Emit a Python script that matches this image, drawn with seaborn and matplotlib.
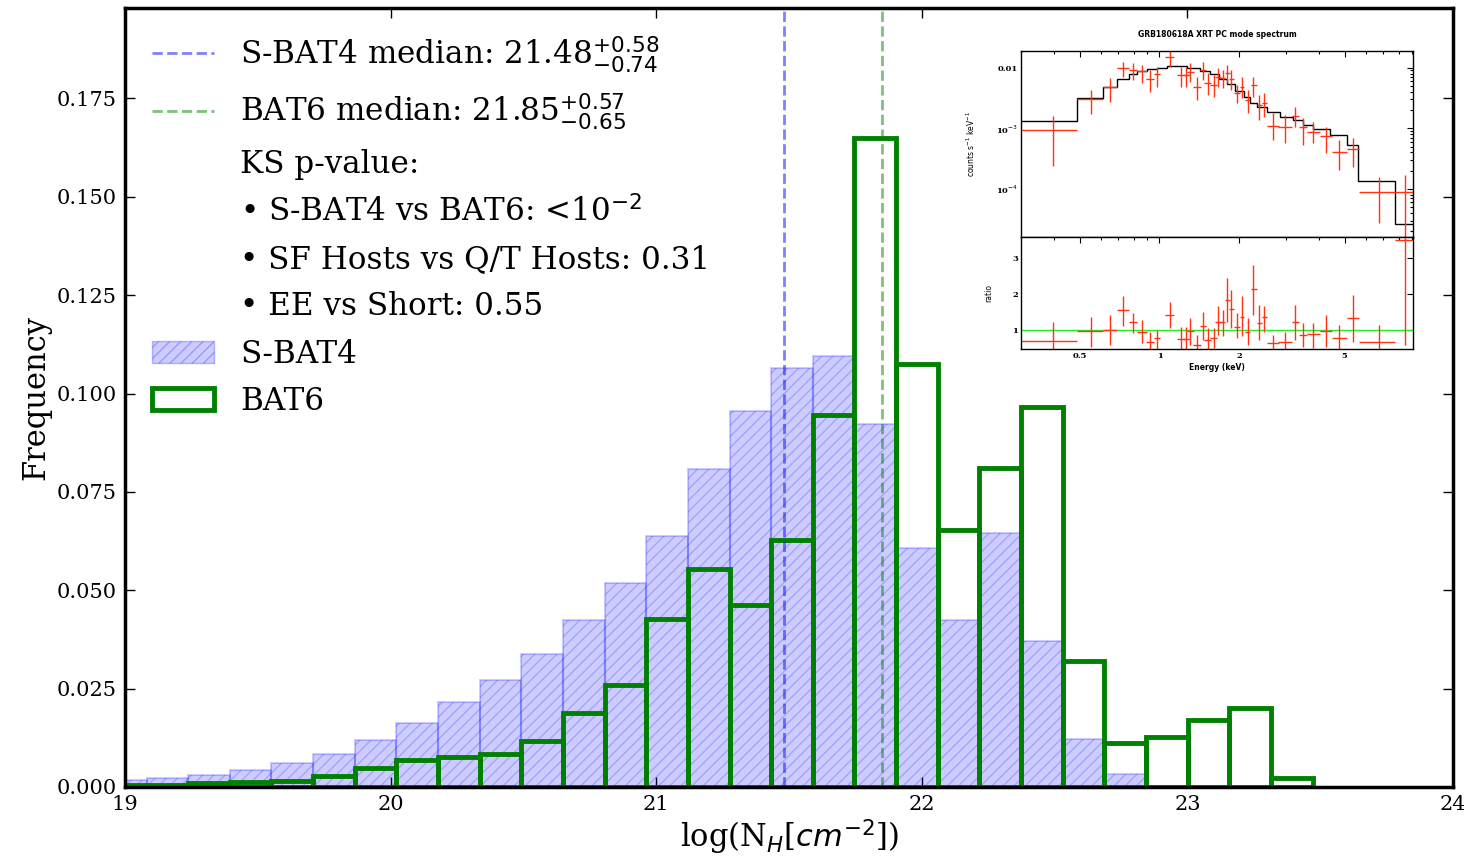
import numpy as np
import pandas as pd
import matplotlib
matplotlib.use("Agg")
import matplotlib.pyplot as plt
import seaborn as sns
from matplotlib.lines import Line2D
from matplotlib.patches import Patch

# ---------------- main histogram data ----------------
bin_edges = [18.924, 19.081, 19.238, 19.394, 19.551, 19.708, 19.865, 20.022,
             20.178, 20.335, 20.492, 20.649, 20.806, 20.962, 21.119, 21.276,
             21.433, 21.590, 21.746, 21.903, 22.060, 22.217, 22.374, 22.530,
             22.687, 22.844, 23.001, 23.158, 23.314, 23.471]
sbat4_freq = [0.0018, 0.0024, 0.0030, 0.0043, 0.0060, 0.0085, 0.0119, 0.0163,
              0.0215, 0.0273, 0.0339, 0.0424, 0.0519, 0.0637, 0.0807, 0.0956,
              0.1064, 0.1096, 0.0922, 0.0608, 0.0425, 0.0646, 0.0371, 0.0123,
              0.0032, 0.0003, 0.0, 0.0, 0.0]
bat6_freq = [0.0005, 0.0006, 0.0009, 0.0012, 0.0016, 0.0028, 0.0047, 0.0068,
             0.0075, 0.0084, 0.0117, 0.0188, 0.0260, 0.0426, 0.0553, 0.0462,
             0.0629, 0.0946, 0.1649, 0.1075, 0.0654, 0.0811, 0.0965, 0.0320,
             0.0112, 0.0128, 0.0171, 0.0200, 0.0022]
sbat4_median = 21.48
bat6_median = 21.85
x_ticks = [19, 20, 21, 22, 23, 24]
y_ticks = [0.000, 0.025, 0.050, 0.075, 0.100, 0.125, 0.150, 0.175]

# ---------------- inset spectrum data ----------------
model_edges = [0.2998, 0.4898, 0.6138, 0.6888, 0.7666, 0.8241, 0.8986, 0.9800,
               1.0690, 1.2708, 1.4265, 1.5560, 1.6722, 1.7975, 1.9321, 2.0773,
               2.2006, 2.3315, 2.5430, 2.8544, 3.2037, 3.4942, 3.8103, 4.4022,
               5.0851, 5.6270, 7.7322, 9.0663]
model_counts = [1.34e-3, 3.13e-3, 4.74e-3, 6.50e-3, 7.77e-3, 8.81e-3, 9.39e-3,
                1.00e-2, 1.065e-2, 9.75e-3, 8.81e-3, 7.77e-3, 6.42e-3, 5.31e-3,
                4.18e-3, 3.33e-3, 2.58e-3, 2.22e-3, 1.88e-3, 1.56e-3, 1.37e-3,
                1.13e-3, 9.6e-4, 7.8e-4, 5.3e-4, 1.36e-4, 2.65e-5]
e_lo = [0.2998, 0.4898, 0.6138, 0.6888, 0.7666, 0.8241, 0.8857, 0.9521, 1.0534,
        1.1654, 1.2276, 1.2708, 1.3386, 1.4183, 1.4686, 1.5560, 1.6247, 1.6967,
        1.7616, 1.8239, 1.9155, 2.0063, 2.1074, 2.2133, 2.3315, 2.4351, 2.5577,
        2.8134, 3.1579, 3.3749, 3.6169, 4.0365, 4.4660, 5.0851, 5.6760, 7.7322]
e_mid = [0.3968, 0.5498, 0.6502, 0.7300, 0.7959, 0.8606, 0.9197, 0.9800, 1.0937,
         1.2100, 1.2635, 1.3081, 1.3860, 1.4558, 1.5202, 1.6013, 1.6627, 1.7362,
         1.7975, 1.8610, 1.9604, 2.0474, 2.1505, 2.2652, 2.3792, 2.4847, 2.6941,
         2.9805, 3.2505, 3.4740, 3.7883, 4.2520, 4.7596, 5.3884, 6.7515, 8.4333]
e_hi = [0.4898, 0.6138, 0.6888, 0.7666, 0.8241, 0.8986, 0.9576, 1.0087, 1.1323,
        1.2526, 1.3081, 1.3464, 1.4348, 1.5028, 1.5650, 1.6484, 1.7065, 1.7717,
        1.8396, 1.9045, 2.0180, 2.0893, 2.2006, 2.3315, 2.4351, 2.5430, 2.8377,
        3.1579, 3.3749, 3.6169, 4.0365, 4.4660, 5.0851, 5.6760, 7.7322, 9.1188]
cnt = [9.39e-4, 3.04e-3, 4.74e-3, 1.00e-2, 9.15e-3, 8.82e-3, 6.42e-3, 7.86e-3,
       1.518e-2, 7.57e-3, 7.57e-3, 8.59e-3, 4.86e-3, 9.15e-3, 5.66e-3, 5.18e-3,
       7.11e-3, 6.67e-3, 8.07e-3, 6.50e-3, 3.78e-3, 4.86e-3, 2.93e-3, 5.18e-3,
       2.42e-3, 2.65e-3, 1.09e-3, 1.07e-3, 1.60e-3, 1.04e-3, 8.81e-4, 7.47e-4,
       4.12e-4, 4.56e-4, 9.04e-5, 9.04e-5]
cnt_lo = [2.42e-4, 1.70e-3, 2.75e-3, 7.11e-3, 6.26e-3, 5.52e-3, 4.02e-3, 4.86e-3,
          1.039e-2, 4.86e-3, 4.86e-3, 5.88e-3, 2.93e-3, 6.26e-3, 3.54e-3, 3.33e-3,
          4.86e-3, 4.56e-3, 5.52e-3, 4.28e-3, 2.58e-3, 3.12e-3, 1.77e-3, 3.33e-3,
          1.37e-3, 1.56e-3, 6.42e-4, 5.66e-4, 1.07e-3, 5.31e-4, 5.66e-4, 3.87e-4,
          2.06e-4, 2.33e-4, 2.79e-5, 1.0e-5]
cnt_hi = [1.62e-3, 4.28e-3, 6.67e-3, 1.256e-2, 1.179e-2, 1.107e-2, 9.15e-3,
          1.039e-2, 1.955e-2, 1.039e-2, 1.039e-2, 1.179e-2, 7.11e-3, 1.256e-2,
          8.07e-3, 7.57e-3, 9.75e-3, 9.15e-3, 1.107e-2, 9.15e-3, 5.18e-3, 7.11e-3,
          4.28e-3, 7.11e-3, 3.54e-3, 3.78e-3, 1.77e-3, 1.66e-3, 2.28e-3, 1.46e-3,
          1.29e-3, 1.07e-3, 6.42e-4, 6.84e-4, 1.60e-4, 1.70e-4]
ratio = [0.70, 0.97, 1.00, 1.54, 1.21, 0.95, 0.68, 0.77, 1.40, 0.74, 0.75, 0.98,
         0.58, 1.11, 0.72, 0.77, 1.23, 1.23, 1.83, 1.58, 1.09, 1.37, 0.95, 2.13,
         1.18, 1.35, 0.63, 0.68, 1.21, 0.86, 0.88, 0.98, 0.77, 1.34, 0.66, 3.49]
ratio_lo = [0.40, 0.54, 0.58, 1.11, 0.91, 0.63, 0.40, 0.40, 1.05, 0.40, 0.40,
            0.58, 0.40, 0.72, 0.40, 0.49, 0.86, 0.82, 1.23, 1.05, 0.77, 0.82,
            0.58, 1.42, 0.72, 0.95, 0.40, 0.40, 0.72, 0.54, 0.49, 0.54, 0.40,
            0.68, 0.40, 0.58]
ratio_hi = [1.23, 1.37, 1.42, 1.94, 1.48, 1.28, 0.95, 1.00, 1.78, 1.09, 1.09,
            1.32, 0.86, 1.51, 1.05, 1.05, 1.65, 1.55, 2.43, 2.11, 1.46, 1.94,
            1.32, 2.80, 1.69, 1.65, 0.86, 0.95, 1.69, 1.18, 1.20, 1.42, 1.14,
            1.97, 1.14, 4.00]

# ---------------- style ----------------
sns.set_theme(style="white")
plt.rcParams["font.family"] = ["DejaVu Serif"]
plt.rcParams["mathtext.fontset"] = "dejavusans"
plt.rcParams["text.color"] = "black"
plt.rcParams["axes.labelcolor"] = "black"
plt.rcParams["xtick.color"] = "black"
plt.rcParams["ytick.color"] = "black"

fig = plt.figure(figsize=(14.64, 8.57), dpi=100)
ax = fig.add_axes([0.0854, 0.0817, 0.9071, 0.9090])

centers = [(a + b) / 2 for a, b in zip(bin_edges[:-1], bin_edges[1:])]
df = pd.DataFrame({"x": centers, "sbat4": sbat4_freq, "bat6": bat6_freq})

sns.histplot(data=df, x="x", weights="sbat4", bins=bin_edges, stat="count",
             color="blue", alpha=0.2, edgecolor=(0, 0, 1, 0.2), linewidth=1.5,
             ax=ax)
for p in ax.patches:
    p.set_hatch("///")
sns.histplot(data=df, x="x", weights="bat6", bins=bin_edges, stat="count",
             fill=False, color="green", linewidth=3.5, ax=ax)

ax.axvline(sbat4_median, color="blue", alpha=0.5, ls="--", lw=2)
ax.axvline(bat6_median, color="green", alpha=0.5, ls="--", lw=2)

ax.set_xlim(19, 24)
ax.set_ylim(0, 0.198)
ax.set_xticks(x_ticks)
ax.set_yticks(y_ticks)
ax.set_yticklabels([f"{v:.3f}" for v in y_ticks])
ax.tick_params(direction="in", length=7, width=1, labelsize=15,
               top=True, right=True, bottom=True, left=True, pad=6)
for s in ax.spines.values():
    s.set_linewidth(2.5)
    s.set_color("black")
ax.set_xlabel("log(N$_H$[$cm^{-2}$])", fontsize=22, labelpad=2)
ax.set_ylabel("Frequency", fontsize=22, labelpad=4)

blank = Line2D([], [], alpha=0)
handles = [
    Line2D([], [], color="blue", alpha=0.5, ls="--", lw=2),
    Line2D([], [], color="green", alpha=0.5, ls="--", lw=2),
    blank, blank, blank, blank,
    Patch(facecolor=(0, 0, 1, 0.2), edgecolor=(0, 0, 1, 0.25), hatch="///"),
    Patch(facecolor="none", edgecolor="green", linewidth=3.5),
]
labels = [
    "S-BAT4 median: 21.48$^{+0.58}_{-0.74}$",
    "BAT6 median: 21.85$^{+0.57}_{-0.65}$",
    "KS p-value:",
    "\u2022 S-BAT4 vs BAT6: <10$^{-2}$",
    "\u2022 SF Hosts vs Q/T Hosts: 0.31",
    "\u2022 EE vs Short: 0.55",
    "S-BAT4",
    "BAT6",
]
ax.legend(handles, labels, loc="upper left", frameon=False, fontsize=22.3,
          handlelength=2.0, handletextpad=0.85, labelspacing=0.52,
          borderaxespad=0.0, bbox_to_anchor=(0.011, 0.982))

# ---------------- inset spectrum ----------------
red = "#ff3311"
axt = fig.add_axes([0.6974, 0.7231, 0.2678, 0.2177])
axb = fig.add_axes([0.6974, 0.5928, 0.2678, 0.1303], sharex=axt)
for a in (axt, axb):
    a.set_facecolor("white")
    for s in a.spines.values():
        s.set_linewidth(1.0)
        s.set_color("black")
    a.set_xscale("log")
    a.tick_params(which="both", direction="in", top=True, right=True,
                  labelsize=6, width=0.8, pad=2)
    a.tick_params(which="major", length=4)
    a.tick_params(which="minor", length=2)

axt.set_yscale("log")
axt.stairs(model_counts, model_edges, color="black", lw=1.0, baseline=None)
xerr = [np.subtract(e_mid, e_lo), np.subtract(e_hi, e_mid)]
axt.errorbar(e_mid, cnt, xerr=xerr,
             yerr=[np.subtract(cnt, cnt_lo), np.subtract(cnt_hi, cnt)],
             fmt="none", ecolor=red, elinewidth=1.0, capsize=0)
axt.set_xlim(0.30, 9.07)
axt.set_ylim(1.6e-5, 0.019)
axt.set_yticks([1e-4, 1e-3, 1e-2])
axt.set_yticklabels(["10$^{-4}$", "10$^{-3}$", "0.01"], fontweight="bold")
axt.tick_params(labelbottom=False)
axt.set_ylabel("counts s$^{-1}$ keV$^{-1}$", fontsize=5.5, family="DejaVu Sans",
               labelpad=14)
axt.set_title("GRB180618A XRT PC mode spectrum", fontsize=5.5,
              family="DejaVu Sans", fontweight="bold", pad=10)

axb.axhline(1.0, color="#22ee22", lw=1.0)
axb.errorbar(e_mid, ratio, xerr=xerr,
             yerr=[np.subtract(ratio, ratio_lo), np.subtract(ratio_hi, ratio)],
             fmt="none", ecolor=red, elinewidth=1.0, capsize=0)
axb.set_ylim(0.475, 3.56)
axb.set_yticks([1, 2, 3])
axb.set_yticklabels(["1", "2", "3"], fontweight="bold")
axb.set_xticks([0.5, 1, 2, 5])
axb.set_xticklabels(["0.5", "1", "2", "5"], fontweight="bold")
axb.set_xlabel("Energy (keV)", fontsize=5.5, family="DejaVu Sans",
               fontweight="bold", labelpad=2)
axb.set_ylabel("ratio", fontsize=5.5, family="DejaVu Sans", labelpad=14)

fig.savefig("out.png", dpi=100)
